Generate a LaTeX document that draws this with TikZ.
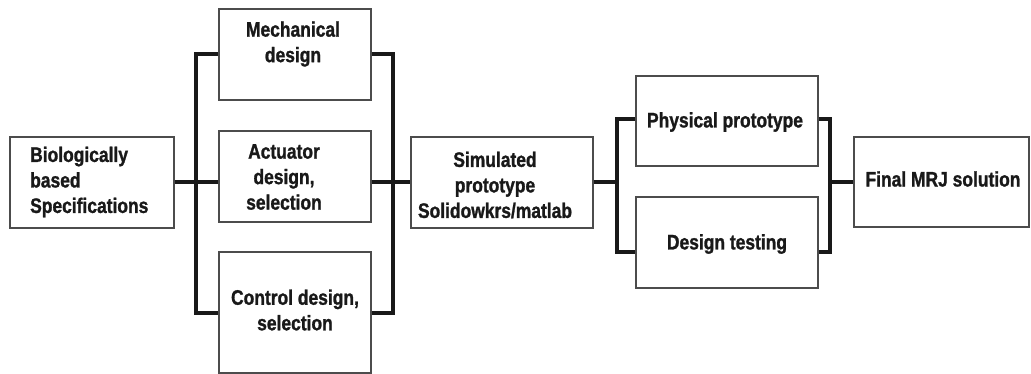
\documentclass[tikz,border=0pt]{standalone}
\usepackage{fontspec}
\newfontfamily\labfont[FakeStretch=0.83,FakeBold=1.2]{Liberation Sans}
\begin{document}
\begin{tikzpicture}[x=1pt,y=-1pt,
  box/.style={draw=black!70,line width=1.4pt,inner sep=0pt,fill=white},
  txt/.style={font=\labfont\bfseries\fontsize{21}{25.5}\selectfont,align=center,inner sep=0pt,text=black!90},
  conn/.style={line width=4pt,black!90}]
\useasboundingbox (0,0) rectangle (1031,374);
% boxes
\node[box,minimum width=164pt,minimum height=91pt] (bio) at (92,182.5) {};
\node[box,minimum width=152pt,minimum height=91pt] (mech) at (295,54.5) {};
\node[box,minimum width=152pt,minimum height=91pt] (act) at (295,176.5) {};
\node[box,minimum width=152pt,minimum height=121pt] (ctrl) at (295,312.5) {};
\node[box,minimum width=182pt,minimum height=91pt] (sim) at (502,182.5) {};
\node[box,minimum width=182pt,minimum height=90pt] (phys) at (727,121) {};
\node[box,minimum width=182pt,minimum height=91pt] (test) at (727,242.5) {};
\node[box,minimum width=175pt,minimum height=90pt] (final) at (941.5,182) {};
% texts
\node[txt,align=left,anchor=west] (bioT) at (30,182) {Biologically\\based\\Specifications};
\node[txt] (mechT) at (293,44) {Mechanical\\design};
\node[txt] (actT) at (284,177) {Actuator\\design,\\selection};
\node[txt] (ctrlT) at (295,310) {Control design,\\selection};
\node[txt] (simT) at (495,185) {Simulated\\prototype\\Solidowkrs/matlab};
\node[txt] (physT) at (725,122) {Physical prototype};
\node[txt] (testT) at (727,244) {Design testing};
\node[txt] (finalT) at (943,179) {Final MRJ solution};
% buses
\coordinate (lb) at (196,0);
\coordinate (rb) at (393,0);
\coordinate (b2) at (617,0);
\coordinate (b3) at (830,0);
\draw[conn] (mech.west) -- (mech.west -| lb) -- (ctrl.west -| lb) -- (ctrl.west);
\draw[conn] (bio.east) -- (bio.east -| act.west);
\draw[conn] (mech.east) -- (mech.east -| rb) -- (ctrl.east -| rb) -- (ctrl.east);
\draw[conn] (act.east |- sim.west) -- (sim.west);
\draw[conn] (sim.east) -- (sim.east -| b2);
\draw[conn] ([yshift=2pt]phys.west) -- ([yshift=2pt]phys.west -| b2) -- ([yshift=-10pt]test.west -| b2) -- ([yshift=-10pt]test.west);
\draw[conn] ([yshift=2pt]phys.east) -- ([yshift=2pt]phys.east -| b3) -- ([yshift=-10pt]test.east -| b3) -- ([yshift=-10pt]test.east);
\draw[conn] (final.west -| b3) -- (final.west);
\end{tikzpicture}
\end{document}
